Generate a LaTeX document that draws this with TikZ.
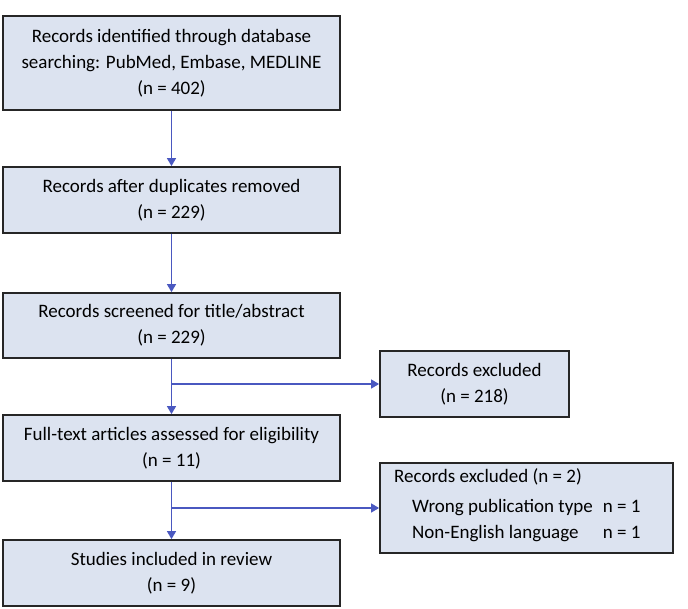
\documentclass[tikz,border=0pt]{standalone}
\usepackage{fontspec}
\setmainfont{Carlito}
\usetikzlibrary{arrows.meta}
\definecolor{boxfill}{HTML}{DCE3F0}
\definecolor{boxline}{HTML}{262626}
\definecolor{arrowblue}{HTML}{4A58C0}
\begin{document}
\begin{tikzpicture}[x=1pt,y=-1pt,
  flowbox/.style={draw=boxline,line width=1.8pt,fill=boxfill,inner sep=0pt,
    align=center,font=\fontsize{19}{26}\selectfont},
  conn/.style={draw=arrowblue,line width=1.3pt},
  flowarrow/.style={conn,-{Triangle[length=8pt,width=9pt]}}]
\useasboundingbox (0,0) rectangle (688,608);
\node[flowbox,minimum width=337pt,minimum height=94pt] (b1) at (171.5,63)
  {Records identified through database\\searching: PubMed, Embase, MEDLINE\\(n = 402)};
\node[flowbox,minimum width=337pt,minimum height=66pt] (b2) at (171.5,200)
  {Records after duplicates removed\\(n = 229)};
\node[flowbox,minimum width=337pt,minimum height=65pt] (b3) at (171.5,325.5)
  {Records screened for title/abstract\\(n = 229)};
\node[flowbox,minimum width=337pt,minimum height=66pt] (b4) at (171.5,448)
  {Full-text articles assessed for eligibility\\(n = 11)};
\node[flowbox,minimum width=337pt,minimum height=66pt] (b5) at (171.5,573)
  {Studies included in review\\(n = 9)};
\node[flowbox,minimum width=189pt,minimum height=66pt] (e1) at (474.5,384)
  {Records excluded\\(n = 218)};
\node[flowbox,minimum width=293pt,minimum height=90pt] (e2) at (526.5,508) {};
\node[font=\fontsize{19}{26}\selectfont,inner sep=0pt,anchor=west] (e2t) at (394,505)
  {\setlength{\tabcolsep}{0pt}\renewcommand{\arraystretch}{1.0}%
   \begin{tabular}{@{}l@{\hspace{10pt}}l@{}}
   \multicolumn{2}{@{}l@{}}{Records excluded (n = 2)}\\[4pt]
   \hspace{18pt}Wrong publication type & n = 1\\[0pt]
   \hspace{18pt}Non-English language & n = 1
   \end{tabular}};
\coordinate (j1) at (b3.south |- e1.west);
\coordinate (j2) at (b4.south |- e2.west);
\draw[flowarrow] (b1) -- (b2);
\draw[flowarrow] (b2) -- (b3);
\draw[flowarrow] (b3) -- (b4);
\draw[flowarrow] (b4) -- (b5);
\draw[flowarrow] (j1) -- (e1.west);
\draw[flowarrow] (j2) -- (e2.west);
\end{tikzpicture}
\end{document}
